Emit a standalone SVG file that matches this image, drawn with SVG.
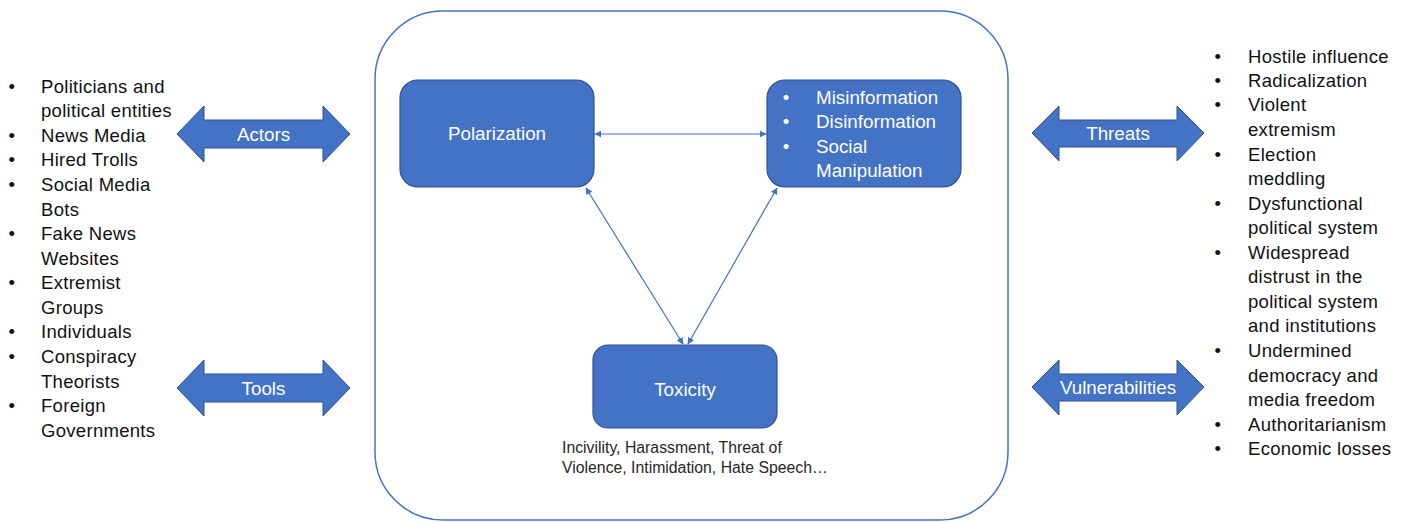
<svg xmlns="http://www.w3.org/2000/svg" width="1405" height="523" viewBox="0 0 1405 523">
<style>
.box{fill:#4472C4;stroke:#2F528F;stroke-width:1.2}
.blk{fill:#4472C4;stroke:#2F528F;stroke-width:1}
.wt{font-family:"Liberation Sans",Arial,sans-serif;font-size:18.8px;fill:#fff}
.lt{font-family:"Liberation Sans",Arial,sans-serif;font-size:18.5px;letter-spacing:0.3px;fill:#111}
.cap{font-family:"Liberation Sans",Arial,sans-serif;font-size:15.8px;fill:#262626}
.con{stroke:#4472C4;stroke-width:1.2;fill:none}
</style>
<defs>
<marker id="ah" viewBox="0 0 10 10" refX="9" refY="5" markerWidth="7" markerHeight="7" markerUnits="userSpaceOnUse" orient="auto-start-reverse">
<path d="M0,0 L10,5 L0,10 Z" fill="#4472C4"/>
</marker>
</defs>
<rect width="1405" height="523" fill="#fff"/>
<g id="frame"><rect x="375" y="11" width="633" height="509" rx="68" ry="68" fill="none" stroke="#4472C4" stroke-width="1.5"/></g>

<g id="actors-list" class="lt">
<text x="12" y="93" text-anchor="middle">•</text><text x="41" y="93">Politicians and</text>
<text x="41" y="117">political entities</text>
<text x="12" y="142" text-anchor="middle">•</text><text x="41" y="142">News Media</text>
<text x="12" y="166" text-anchor="middle">•</text><text x="41" y="166">Hired Trolls</text>
<text x="12" y="191" text-anchor="middle">•</text><text x="41" y="191">Social Media</text>
<text x="41" y="216">Bots</text>
<text x="12" y="240" text-anchor="middle">•</text><text x="41" y="240">Fake News</text>
<text x="41" y="265">Websites</text>
<text x="12" y="289" text-anchor="middle">•</text><text x="41" y="289">Extremist</text>
<text x="41" y="314">Groups</text>
<text x="12" y="338" text-anchor="middle">•</text><text x="41" y="338">Individuals</text>
<text x="12" y="363" text-anchor="middle">•</text><text x="41" y="363">Conspiracy</text>
<text x="41" y="388">Theorists</text>
<text x="12" y="412" text-anchor="middle">•</text><text x="41" y="412">Foreign</text>
<text x="41" y="437">Governments</text>
</g>

<g id="actors">
<path class="blk" d="M177,134 L204,106 L204,120 L323,120 L323,106 L350,134 L323,162 L323,148 L204,148 L204,162 Z"/>
<text class="wt" x="263.5" y="140.5" text-anchor="middle">Actors</text>
</g>
<g id="tools">
<path class="blk" d="M177,388 L204,360 L204,374 L323,374 L323,360 L350,388 L323,416 L323,402 L204,402 L204,416 Z"/>
<text class="wt" x="263.5" y="394.5" text-anchor="middle">Tools</text>
</g>
<g id="threats">
<path class="blk" d="M1032,133 L1059,106 L1059,120 L1177,120 L1177,106 L1204,133 L1177,161 L1177,147 L1059,147 L1059,161 Z"/>
<text class="wt" x="1118" y="139.5" text-anchor="middle">Threats</text>
</g>
<g id="vulnerabilities">
<path class="blk" d="M1032,387 L1059,360 L1059,374 L1177,374 L1177,360 L1204,387 L1177,415 L1177,401 L1059,401 L1059,415 Z"/>
<text class="wt" x="1118" y="393.5" text-anchor="middle">Vulnerabilities</text>
</g>

<g id="threats-list" class="lt">
<text x="1218" y="63" text-anchor="middle">•</text><text x="1248" y="63">Hostile influence</text>
<text x="1218" y="87" text-anchor="middle">•</text><text x="1248" y="87">Radicalization</text>
<text x="1218" y="111" text-anchor="middle">•</text><text x="1248" y="111">Violent</text>
<text x="1248" y="136">extremism</text>
<text x="1218" y="161" text-anchor="middle">•</text><text x="1248" y="161">Election</text>
<text x="1248" y="185">meddling</text>
<text x="1218" y="210" text-anchor="middle">•</text><text x="1248" y="210">Dysfunctional</text>
<text x="1248" y="234">political system</text>
<text x="1218" y="259" text-anchor="middle">•</text><text x="1248" y="259">Widespread</text>
<text x="1248" y="283">distrust in the</text>
<text x="1248" y="308">political system</text>
<text x="1248" y="332">and institutions</text>
<text x="1218" y="357" text-anchor="middle">•</text><text x="1248" y="357">Undermined</text>
<text x="1248" y="382">democracy and</text>
<text x="1248" y="406">media freedom</text>
<text x="1218" y="431" text-anchor="middle">•</text><text x="1248" y="431">Authoritarianism</text>
<text x="1218" y="455" text-anchor="middle">•</text><text x="1248" y="455">Economic losses</text>
</g>

<g id="connectors">
<line class="con" x1="595" y1="134" x2="766" y2="134" marker-start="url(#ah)" marker-end="url(#ah)"/>
<line class="con" x1="586" y1="188" x2="683" y2="344" marker-start="url(#ah)" marker-end="url(#ah)"/>
<line class="con" x1="777" y1="188" x2="688" y2="344" marker-start="url(#ah)" marker-end="url(#ah)"/>
</g>

<g id="polarization">
<rect class="box" x="400" y="80" width="194" height="107" rx="18"/>
<text class="wt" x="497" y="140" text-anchor="middle">Polarization</text>
</g>
<g id="misinformation">
<rect class="box" x="767" y="80" width="194" height="107" rx="18"/>
<text class="wt" x="786" y="104" text-anchor="middle">•</text><text class="wt" x="816" y="104">Misinformation</text>
<text class="wt" x="786" y="128" text-anchor="middle">•</text><text class="wt" x="816" y="128">Disinformation</text>
<text class="wt" x="786" y="153" text-anchor="middle">•</text><text class="wt" x="816" y="153">Social</text>
<text class="wt" x="816" y="177">Manipulation</text>
</g>
<g id="toxicity">
<rect class="box" x="593" y="345" width="184" height="83" rx="15"/>
<text class="wt" x="685" y="396" text-anchor="middle">Toxicity</text>
<text class="cap" x="562" y="453">Incivility, Harassment, Threat of</text>
<text class="cap" x="562" y="473">Violence, Intimidation, Hate Speech…</text>
</g>
</svg>
